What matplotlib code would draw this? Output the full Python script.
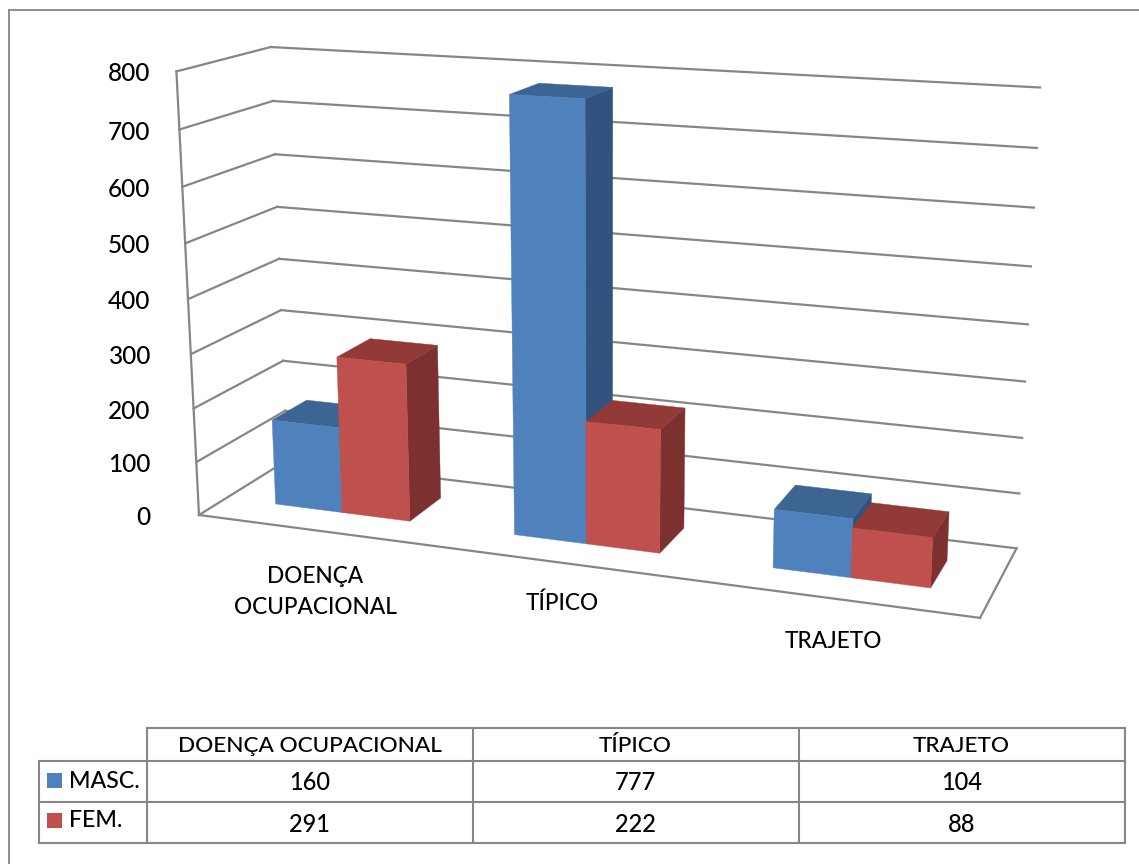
import numpy as np
import matplotlib
matplotlib.use('Agg')
import matplotlib.pyplot as plt
from matplotlib.patches import Rectangle

categories = ['DOENÇA OCUPACIONAL', 'TÍPICO', 'TRAJETO']
axis_labels = ['DOENÇA\nOCUPACIONAL', 'TÍPICO', 'TRAJETO']
series_names = ['MASC.', 'FEM.']
masc = [160, 777, 104]
fem = [291, 222, 88]
y_ticks = [0, 100, 200, 300, 400, 500, 600, 700, 800]

W, H = 1139, 864
GRAY = '#868686'
FONT = 'Lato'
WEIGHT = 'medium'

# camera calibration: axis-box coordinates (category, value, depth) -> figure pixels
vals = np.array(y_ticks, float)
front_left = np.array([(198, 515), (197, 462), (194, 409), (191, 354), (189, 299), (185, 243), (182, 187), (179, 129), (176, 72)], float)
back_left = np.array([(287, 460), (285, 411), (283, 361), (281, 310), (279, 259), (277, 207), (275, 154), (273, 101), (271, 47)], float)
back_right = np.array([(1017, 549), (1019, 493), (1022, 437), (1025, 381), (1028, 325), (1031, 267), (1034, 208), (1037, 148), (1040, 87)], float)
obj, img = [], []
for v, a, b, c in zip(vals, front_left, back_left, back_right):
    obj += [(0, v / 800, 0), (0, v / 800, 1), (3, v / 800, 1)]
    img += [a, b, c]
obj.append((3, 0, 0))
img.append((980, 618))
A = []
for (X, Y, Z), (u, v) in zip(obj, img):
    A.append([X, Y, Z, 1, 0, 0, 0, 0, -u * X, -u * Y, -u * Z, -u])
    A.append([0, 0, 0, 0, X, Y, Z, 1, -v * X, -v * Y, -v * Z, -v])
P = np.linalg.svd(np.array(A, float))[2][-1].reshape(3, 4)


def project(x, v, z):
    q = P @ np.array([x, v / 800, z, 1.0])
    return q[0] / q[2], q[1] / q[2]


fig = plt.figure(figsize=(W / 100, H / 100), dpi=100, facecolor='white')
ax = fig.add_axes([0, 0, 1, 1])
ax.set_xlim(0, W)
ax.set_ylim(H, 0)
ax.axis('off')


def line(p, q, lw=1.6, z=1):
    ax.plot([p[0], q[0]], [p[1], q[1]], color=GRAY, lw=lw, solid_capstyle='projecting', zorder=z)


def label(x, y, s, fs, ha='center', **kw):
    ax.text(x, y, s, ha=ha, va='center', family=FONT, fontweight=WEIGHT, fontsize=fs, color='black', **kw)


# outer frame (only top and left show)
line((8.5, 10), (W, 10), 1.3)
line((8.5, 10), (8.5, H), 1.3)

# walls and floor
for v in y_ticks:
    line(project(0, v, 0), project(0, v, 1))
    line(project(0, v, 1), project(3, v, 1))
line(project(0, 0, 0), project(0, 800, 0))
line(project(0, 0, 0), project(3, 0, 0))
line(project(3, 0, 0), project(3, 0, 1))

for v in y_ticks:
    label(150, project(0, v, 0)[1] + 2.5, str(v), 17.6, ha='right')

# bars
Z0, Z1 = 0.3, 0.7
STYLES = [('#4F81BD', '#3C6594', '#32537F'), ('#C0504D', '#923A38', '#7C3130')]
GAP = 0.75 / 3.5
WID = 1 / 3.5
zo = 5


def poly(pts, color):
    global zo
    xs, ys = zip(*pts)
    ax.fill(xs, ys, facecolor=color, edgecolor=color, lw=0.3, zorder=zo)
    zo += 1


for i in range(len(categories)):
    for j, values in enumerate([masc, fem]):
        x0 = i + GAP + j * WID
        x1 = x0 + WID
        h = values[i]
        front, top, side = STYLES[j]
        poly([project(x1, 0, Z0), project(x1, 0, Z1), project(x1, h, Z1), project(x1, h, Z0)], side)
        poly([project(x0, h, Z0), project(x1, h, Z0), project(x1, h, Z1), project(x0, h, Z1)], top)
        poly([project(x0, 0, Z0), project(x1, 0, Z0), project(x1, h, Z0), project(x0, h, Z0)], front)

# category labels
label_pos = [(315, 592), (562, 603), (833, 642)]
for s, (x, y) in zip(axis_labels, label_pos):
    label(x, y, s, 16.3, linespacing=1.6)

# data table
col_x = [146.5, 472.5, 798.5, 1124.5]
row_y = [728, 761, 802, 843]
left = 38.5
line((col_x[0], row_y[0]), (col_x[-1], row_y[0]), 1.5, 20)
for y in row_y[1:]:
    line((left, y), (col_x[-1], y), 1.5, 20)
line((left, row_y[1]), (left, row_y[-1]), 1.5, 20)
for x in col_x:
    line((x, row_y[0]), (x, row_y[-1]), 1.5, 20)
for k, s in enumerate(categories):
    label((col_x[k] + col_x[k + 1]) / 2, 745.5, s, 16.2)
for r, (name, values) in enumerate(zip(series_names, [masc, fem])):
    yc = (row_y[r + 1] + row_y[r + 2]) / 2
    ax.add_patch(Rectangle((47, yc - 8.5 - r * 1), 15, 15, facecolor=STYLES[r][0], edgecolor='none', zorder=20))
    label(69, yc - 0.5 - r * 1.5, name, 16.7, ha='left')
    for k, val in enumerate(values):
        label((col_x[k] + col_x[k + 1]) / 2, yc + 1.5, str(val), 17)

fig.savefig('out.png', dpi=100, facecolor='white')
